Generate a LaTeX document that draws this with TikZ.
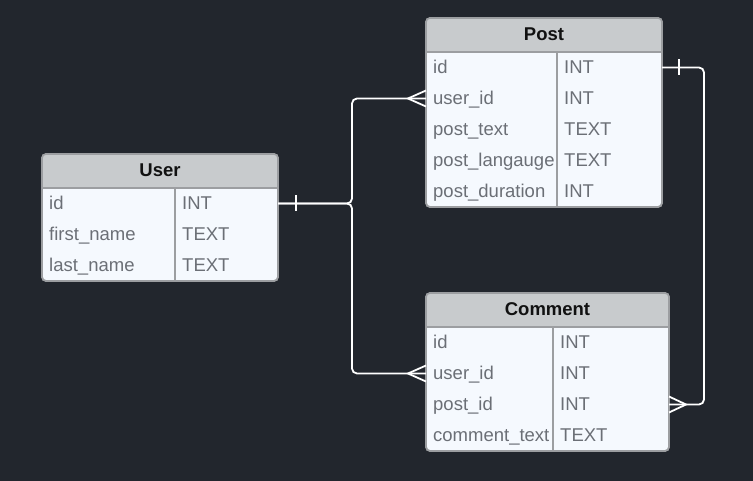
\documentclass[tikz,border=0pt]{standalone}
\usepackage{fontspec}
\setmainfont{Liberation Sans}
\definecolor{bgc}{HTML}{22262D}
\definecolor{headc}{HTML}{C8CBCD}
\definecolor{bodyc}{HTML}{F5F9FE}
\definecolor{borderc}{HTML}{9C9EA1}
\definecolor{rowc}{HTML}{6B6F76}
\definecolor{headtxt}{HTML}{111111}
\tikzset{
  tabbox/.style={fill=bodyc, draw=borderc, line width=1.6pt, rounded corners=4pt},
  headfill/.style={fill=headc},
  sepline/.style={draw=borderc, line width=1.6pt},
  rowtxt/.style={inner sep=0pt, text=rowc, font=\fontsize{18.5}{22}\selectfont},
  headlbl/.style={inner sep=0pt, text=headtxt, font=\fontsize{18.5}{22}\selectfont\bfseries},
  conn/.style={draw=white, line width=1.8pt},
}
\newcommand{\erdtab}[8]{%
  \pgfmathsetmacro{\hb}{#4+34}%
  \pgfmathsetmacro{\bt}{#4+34+31*#5}%
  \path[tabbox] (#2,#4) rectangle (#3,\bt);
  \fill[headfill] (#2,\hb) [rounded corners=3pt] -- (#2,#4+0.8) -- (#3,#4+0.8) [sharp corners] -- (#3,\hb) -- cycle;
  \draw[tabbox, fill=none] (#2,#4) rectangle (#3,\bt);
  \draw[sepline] (#2,\hb) -- (#3,\hb);
  \draw[sepline] (#6,\hb) -- (#6,\bt);
  \node[headlbl, anchor=base] (#1) at ({(#2+#3)/2},{#4+23}) {#7};
  \foreach \n/\t [count=\i] in {#8} {
    \pgfmathsetmacro{\yc}{\hb+31*(\i-0.5)}
    \node[rowtxt, anchor=base west] (#1-n\i) at ({#2+7},{\yc+6}) {\n};
    \node[rowtxt, anchor=base west] (#1-t\i) at ({#6+7},{\yc+6}) {\t};
    \coordinate (#1-w\i) at (#2,\yc);
    \coordinate (#1-e\i) at (#3,\yc);
  }
}
\begin{document}
\begin{tikzpicture}[x=1pt,y=-1pt]
\fill[bgc] (0,0) rectangle (753,481);
\useasboundingbox (0,0) rectangle (753,481);

\erdtab{post}{426}{662}{18}{5}{557}{Post}{id/INT, user\_id/INT, post\_text/TEXT, post\_langauge/TEXT, post\_duration/INT}
\erdtab{user}{42}{278}{154}{3}{175}{User}{id/INT, first\_name/TEXT, last\_name/TEXT}
\erdtab{comment}{426}{669}{293}{4}{553}{Comment}{id/INT, user\_id/INT, post\_id/INT, comment\_text/TEXT}

\coordinate (jx) at (352,0);
\coordinate (rx) at (704,0);

% User -> Post / Comment
\draw[conn, rounded corners=5pt] (user-e1) -- (jx |- user-e1) |- (post-w2);
\draw[conn, rounded corners=5pt] (user-e1) -- (jx |- user-e1) |- (comment-w2);
\draw[conn] ([xshift=18pt,yshift=8pt]user-e1) -- ([xshift=18pt,yshift=-8pt]user-e1);
% crow's feet at Post.user_id
\draw[conn] ([yshift=8pt]post-w2) -- ([xshift=-18pt]post-w2) -- ([yshift=-8pt]post-w2);
% crow's feet at Comment.user_id
\draw[conn] ([yshift=8pt]comment-w2) -- ([xshift=-18pt]comment-w2) -- ([yshift=-8pt]comment-w2);

% Post -> Comment
\draw[conn, rounded corners=5pt] (post-e1) -- (rx |- post-e1) |- (comment-e3);
\draw[conn] ([xshift=17pt,yshift=8pt]post-e1) -- ([xshift=17pt,yshift=-8pt]post-e1);
\draw[conn] ([yshift=8pt]comment-e3) -- ([xshift=17pt]comment-e3) -- ([yshift=-8pt]comment-e3);
\end{tikzpicture}
\end{document}
